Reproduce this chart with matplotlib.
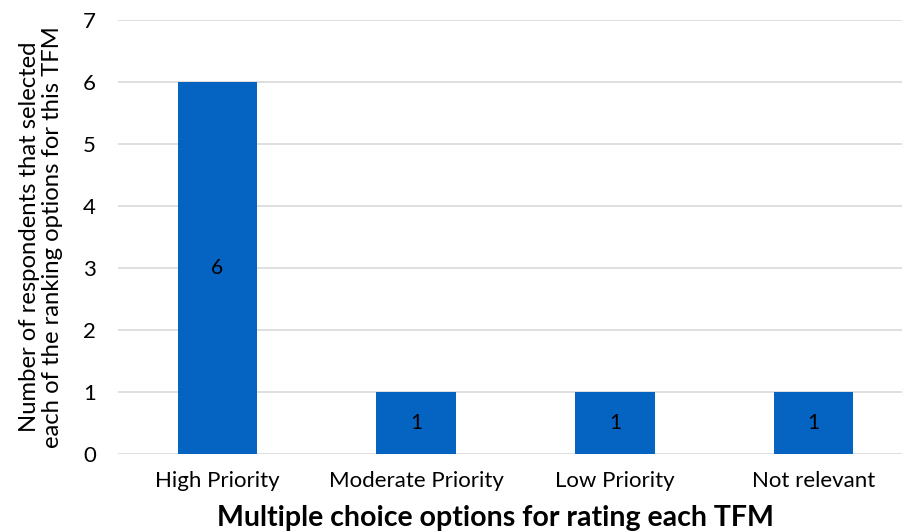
import matplotlib.pyplot as plt

categories = ['High Priority', 'Moderate Priority', 'Low Priority', 'Not relevant']
counts = [6, 1, 1, 1]

plt.rcParams['font.family'] = ['Lato', 'DejaVu Sans']

fig = plt.figure(figsize=(9.02, 5.31), dpi=100)
ax = fig.add_axes([118 / 902, 77 / 531, 784 / 902, 434 / 531])

x = range(len(categories))
bars = ax.bar(x, counts, width=0.4, color='#0563c1', zorder=3)
for b, v in zip(bars, counts):
    ax.text(b.get_x() + b.get_width() / 2, v / 2, str(v),
            ha='center', va='center', fontsize=15, color='black', zorder=4)

ax.set_xlim(-0.5, 3.445)
ax.set_ylim(0, 7)
ax.set_yticks(range(8))
ax.set_xticks(list(x))
ax.set_xticklabels(categories)
ax.grid(axis='y', color='#d9d9d9', linewidth=1.2, zorder=0)
ax.tick_params(length=0, labelsize=16, pad=12)
ax.tick_params(axis='y', pad=16)
for s in ax.spines.values():
    s.set_visible(False)

ax.set_xlabel('Multiple choice options for rating each TFM',
              fontsize=20.5, fontweight='bold', labelpad=10)
ax.xaxis.label.set_x(0.482)
ax.set_ylabel('Number of respondents that selected\neach of the ranking options for this TFM',
              fontsize=17.2, labelpad=14, linespacing=1.15)

fig.savefig('out.png', dpi=100)
